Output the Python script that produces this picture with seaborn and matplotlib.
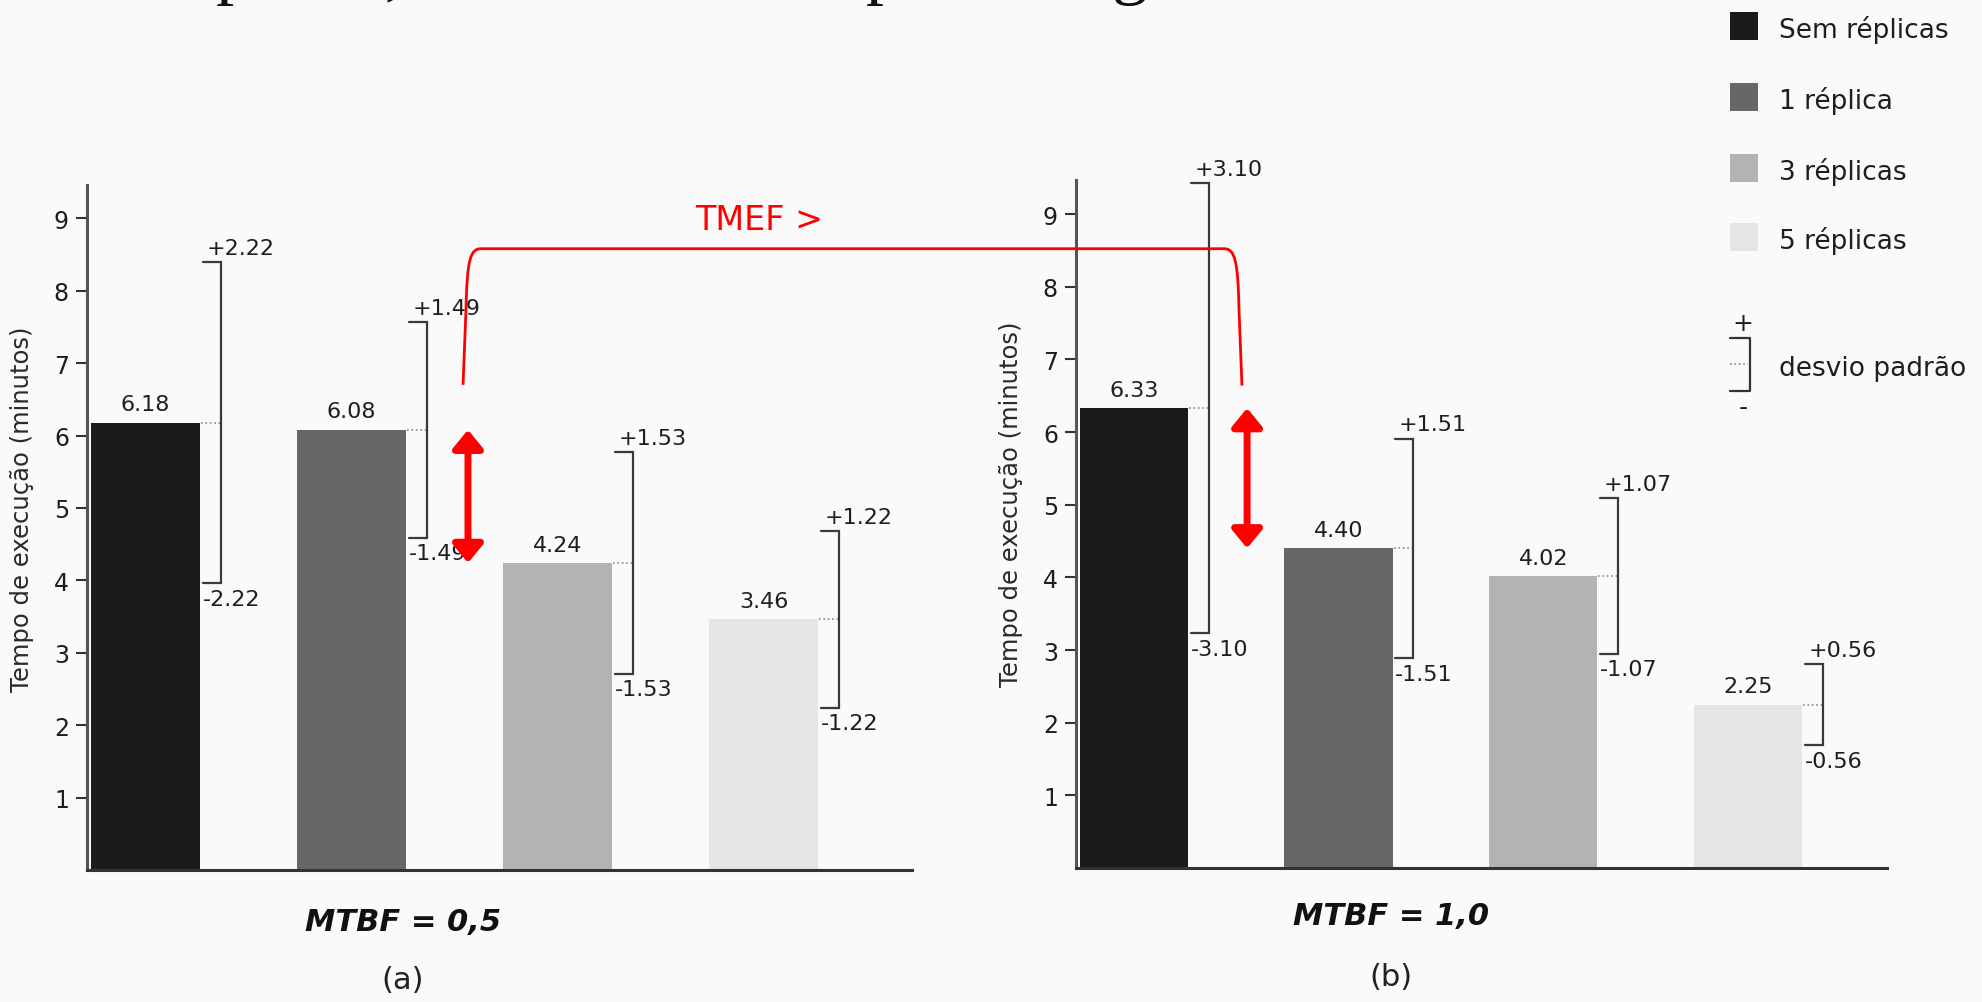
import numpy as np
import pandas as pd
import matplotlib
matplotlib.use("Agg")
import matplotlib.pyplot as plt
import seaborn as sns
from matplotlib.path import Path
from matplotlib.patches import PathPatch, Rectangle

# ---- data -------------------------------------------------------------
categories = ["Sem réplicas", "1 réplica", "3 réplicas", "5 réplicas"]
bar_colors = ["#1b1b1b", "#676767", "#b3b3b3", "#e5e5e5"]

mtbf05_mean = [6.18, 6.08, 4.24, 3.46]
mtbf05_sd = [2.22, 1.49, 1.53, 1.22]
mtbf10_mean = [6.33, 4.40, 4.02, 2.25]
mtbf10_sd = [3.10, 1.51, 1.07, 0.56]

panel_titles = ["MTBF = 0,5", "MTBF = 1,0"]
panel_tags = ["(a)", "(b)"]
y_ticks = [1, 2, 3, 4, 5, 6, 7, 8, 9]
y_label = "Tempo de execução (minutos)"
sd_label = "desvio padrão"
tmef_label = "TMEF >"

# ---- style ------------------------------------------------------------
sns.set_theme(style="white")
plt.rcParams["font.family"] = ["DejaVu Sans"]
TXT = "#1e1e1e"
BG = "#fafafa"

W, H = 1983, 1003
fig = plt.figure(figsize=(W / 100, H / 100), dpi=100, facecolor=BG)


def px_box(left, top, right, bottom):
    return [left / W, 1 - bottom / H, (right - left) / W, (bottom - top) / H]


def fx(x):
    return x / W


def fy(y):
    return 1 - y / H


BAR_W = 0.53


def draw_panel(ax, means, sds, xlim, ylim, label_xy):
    df = pd.DataFrame({"config": categories, "tempo": means})
    sns.barplot(data=df, x="config", y="tempo", hue="config",
                order=categories, hue_order=categories, palette=bar_colors,
                width=BAR_W, saturation=1, errorbar=None, legend=False,
                linewidth=0, ax=ax)
    ax.set_xlim(*xlim)
    ax.set_ylim(*ylim)
    ax.set_facecolor("none")
    ax.set_xticks([])
    ax.set_xlabel("")
    ax.set_yticks(y_ticks)
    ax.tick_params(axis="y", length=8, width=1.5, color="#333333",
                   labelsize=17, labelcolor=TXT, pad=5, left=True)
    ax.set_ylabel(y_label, fontsize=17.5, color="#2a2a2a")
    ax.yaxis.set_label_coords(*label_xy)
    for side in ("top", "right"):
        ax.spines[side].set_visible(False)
    ax.spines["left"].set_color("#555555")
    ax.spines["left"].set_linewidth(2.2)
    ax.spines["bottom"].set_color("#333333")
    ax.spines["bottom"].set_linewidth(2.2)

    # value labels and +/- standard deviation brackets
    for i, (m, s) in enumerate(zip(means, sds)):
        xr = i + BAR_W / 2
        xb = xr + 0.10
        ax.annotate(f"{m:.2f}", (i, m), xytext=(0, 6),
                    textcoords="offset points", ha="center", va="bottom",
                    fontsize=16, color=TXT)
        ax.plot([xr + 0.005, xb], [m, m], ls=":", color="#8a8a8a", lw=1.2)
        ax.plot([xr + 0.012, xb, xb, xr + 0.012], [m + s, m + s, m - s, m - s],
                color="#3a3a3a", lw=1.6, clip_on=False, solid_joinstyle="miter")
        ax.annotate(f"+{s:.2f}", (xr + 0.03, m + s), xytext=(0, 3),
                    textcoords="offset points", ha="left", va="bottom",
                    fontsize=16, color=TXT, annotation_clip=False)
        ax.annotate(f"-{s:.2f}", (xr + 0.012, m - s), xytext=(0, -4),
                    textcoords="offset points", ha="left", va="top",
                    fontsize=16, color=TXT, annotation_clip=False)


ax1 = fig.add_axes(px_box(87, 186, 912, 871))
ax2 = fig.add_axes(px_box(1076, 181, 1887, 869))
draw_panel(ax1, mtbf05_mean, mtbf05_sd, (-0.284, 3.72), (0, 9.46), (-0.064, 0.528))
draw_panel(ax2, mtbf10_mean, mtbf10_sd, (-0.283, 3.68), (0, 9.47), (-0.065, 0.53))

# panel captions
for cx, cy, ty, title, tag in [(403, 923, 981, panel_titles[0], panel_tags[0]),
                               (1391, 917, 978, panel_titles[1], panel_tags[1])]:
    fig.text(fx(cx), fy(cy), title, ha="center", va="center", fontsize=22,
             fontweight="bold", fontstyle="italic", color="#111111")
    fig.text(fx(cx), fy(ty), tag, ha="center", va="center", fontsize=22,
             color="#222222")

# legend: colour swatches
for k, (lab, col) in enumerate(zip(categories, bar_colors)):
    yc = [27, 98, 169, 238][k]
    fig.add_artist(Rectangle((fx(1730), fy(yc + 14)), 28 / W, 28 / H,
                             transform=fig.transFigure, facecolor=col,
                             edgecolor="none"))
    fig.text(fx(1779), fy(yc + 3), lab, ha="left", va="center", fontsize=19,
             color=TXT)

# legend: standard deviation bracket
bx0, bx1, byt, byb, bym = 1730, 1750, 339, 392, 365
fig.add_artist(plt.Line2D([fx(bx0), fx(bx1), fx(bx1), fx(bx0)],
                          [fy(byt), fy(byt), fy(byb), fy(byb)],
                          transform=fig.transFigure, color="#333333", lw=1.6))
fig.add_artist(plt.Line2D([fx(bx0), fx(bx1 - 2)], [fy(bym), fy(bym)],
                          transform=fig.transFigure, color="#8a8a8a", lw=1.2,
                          ls=":"))
fig.text(fx(1743), fy(324), "+", ha="center", va="center", fontsize=18, color=TXT)
fig.text(fx(1743), fy(408), "-", ha="center", va="center", fontsize=18, color=TXT)
fig.text(fx(1779), fy(369), sd_label, ha="left", va="center", fontsize=19,
         color=TXT)

# red difference arrows between consecutive configurations
arrow_kw = dict(arrowstyle="<|-|>,head_length=0.55,head_width=0.45",
                color="#ff0000", lw=5, shrinkA=0, shrinkB=0, mutation_scale=20)
ax1.annotate("", xy=(1.565, mtbf05_mean[2]), xytext=(1.565, mtbf05_mean[1]),
             arrowprops=arrow_kw, annotation_clip=False)
ax2.annotate("", xy=(0.553, mtbf10_mean[1]), xytext=(0.553, mtbf10_mean[0]),
             arrowprops=arrow_kw, annotation_clip=False)

# red connector linking the two arrows
to_fig = fig.transFigure.inverted()
pL = ax1.transData.transform((1.541, 6.70))
pR = ax2.transData.transform((0.528, 6.64))
top = ax1.transData.transform((0, 8.58))[1]
verts = [
    (pL[0], pL[1]),
    (pL[0] + 3, top - 60),
    (pL[0] + 4, top - 12), (pL[0] + 7, top), (pL[0] + 18, top),
    (pR[0] - 18, top),
    (pR[0] - 7, top), (pR[0] - 4, top - 12), (pR[0] - 3, top - 60),
    (pR[0], pR[1]),
]
codes = [Path.MOVETO, Path.LINETO,
         Path.CURVE4, Path.CURVE4, Path.CURVE4,
         Path.LINETO,
         Path.CURVE4, Path.CURVE4, Path.CURVE4,
         Path.LINETO]
verts = to_fig.transform(np.array(verts))
fig.add_artist(PathPatch(Path(verts, codes), transform=fig.transFigure,
                         facecolor="none", edgecolor="#ff0000", lw=2))
fig.text(fx(759), fy(220), tmef_label, ha="center", va="center", fontsize=24,
         color="#ff0000")

# slide heading running off the top edge
for x, s in [(137, "Réplicas,"), (866, "p"), (1112, "g")]:
    fig.text(fx(x), fy(-9), s, ha="left", va="baseline", fontsize=52,
             family="Liberation Serif", color="#111111")

fig.savefig("out.png", dpi=100, facecolor=BG)
